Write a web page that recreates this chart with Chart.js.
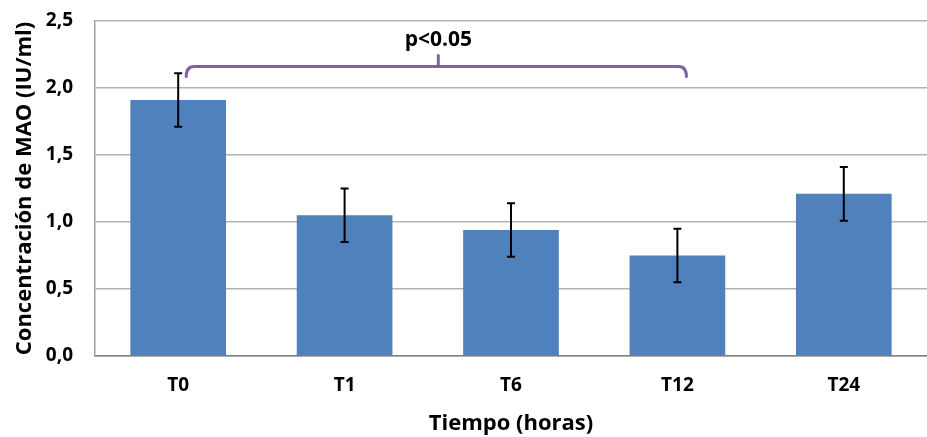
<!DOCTYPE html>
<html>
<head>
<meta charset="utf-8">
<script src="https://cdn.jsdelivr.net/npm/chart.js@4/dist/chart.umd.min.js"></script>
<style>
  html, body { margin: 0; padding: 0; background: #fff; }
  #wrap { width: 927px; height: 437px; }
</style>
</head>
<body>
<div id="wrap"><canvas id="chart"></canvas></div>
<script>
const categories = ["T0", "T1", "T6", "T12", "T24"];
const values = [1.91, 1.05, 0.94, 0.75, 1.21];
const errors = [0.2, 0.2, 0.2, 0.2, 0.2];
const yTicks = [0, 0.5, 1.0, 1.5, 2.0, 2.5];
// significance bracket between these two groups
const bracketFrom = "T0";
const bracketTo = "T12";
const bracketLabel = "p<0.05";
const bracketLevel = 2.16;

const FONT = "'Open Sans', Lato, sans-serif";

const errorBars = {
  id: "errorBars",
  afterDatasetsDraw(chart) {
    const { ctx, scales: { x, y } } = chart;
    ctx.save();
    ctx.strokeStyle = "#000";
    ctx.lineWidth = 2;
    values.forEach((v, i) => {
      const px = x.getPixelForValue(i);
      const top = y.getPixelForValue(v + errors[i]);
      const bot = y.getPixelForValue(v - errors[i]);
      ctx.beginPath();
      ctx.moveTo(px, top); ctx.lineTo(px, bot);
      ctx.moveTo(px - 4, top); ctx.lineTo(px + 4, top);
      ctx.moveTo(px - 4, bot); ctx.lineTo(px + 4, bot);
      ctx.stroke();
    });
    ctx.restore();
  }
};

const bracket = {
  id: "bracket",
  afterDatasetsDraw(chart) {
    const { ctx, scales: { x, y } } = chart;
    const x1 = x.getPixelForValue(categories.indexOf(bracketFrom)) + 8;
    const x2 = x.getPixelForValue(categories.indexOf(bracketTo)) + 9;
    const mid = (x1 + x2) / 2 + 2;
    const yl = y.getPixelForValue(bracketLevel);
    ctx.save();
    ctx.strokeStyle = "#7f62a2";
    ctx.lineWidth = 3;
    ctx.lineJoin = "round";
    ctx.lineCap = "round";
    ctx.beginPath();
    ctx.moveTo(x1, yl + 10);
    ctx.quadraticCurveTo(x1, yl, x1 + 8, yl);
    ctx.lineTo(x2 - 8, yl);
    ctx.quadraticCurveTo(x2, yl, x2, yl + 10);
    ctx.moveTo(mid, yl);
    ctx.lineTo(mid, yl - 11);
    ctx.stroke();
    ctx.fillStyle = "#000";
    ctx.font = "bold 21px " + FONT;
    ctx.textAlign = "center";
    ctx.textBaseline = "middle";
    ctx.fillText(bracketLabel, mid, yl - 27);
    ctx.restore();
  }
};

new Chart(document.getElementById("chart"), {
  type: "bar",
  data: {
    labels: categories,
    datasets: [
      {
        data: values,
        backgroundColor: "#4f81bd",
        borderWidth: 0,
        categoryPercentage: 1,
        barPercentage: 0.575
      }
    ]
  },
  options: {
    responsive: true,
    maintainAspectRatio: false,
    animation: false,
    layout: { padding: { top: 21, right: 0, left: 12, bottom: 0 } },
    plugins: {
      legend: { display: false },
      tooltip: { enabled: false }
    },
    scales: {
      x: {
        grid: { display: false },
        border: { color: "#808080", width: 1.5 },
        ticks: {
          color: "#000",
          font: { family: FONT, size: 19, weight: "bold" },
          padding: 10
        },
        title: {
          display: true,
          text: "Tiempo (horas)",
          color: "#000",
          font: { family: FONT, size: 22, weight: "bold" },
          padding: { top: 5, bottom: 0 }
        },
        afterFit: s => { s.height = 81; s.paddingLeft = 0; s.paddingRight = 0; }
      },
      y: {
        min: 0,
        max: 2.5,
        afterBuildTicks: s => { s.ticks = yTicks.map(v => ({ value: v })); },
        grid: { color: "#b3b3b3", lineWidth: 1.5, drawTicks: false },
        border: { color: "#a0a0a0", width: 1.5 },
        ticks: {
          color: "#000",
          padding: 22,
          font: { family: FONT, size: 19, weight: "bold" },
          callback: v => v.toFixed(1).replace(".", ",")
        },
        title: {
          display: true,
          text: "Concentración de MAO (IU/ml)",
          color: "#000",
          font: { family: FONT, size: 22, weight: "bold" },
          padding: { top: 0, bottom: 2 }
        },
        afterFit: s => { s.width = 83; s.paddingTop = 0; s.paddingBottom = 0; }
      }
    }
  },
  plugins: [errorBars, bracket]
});
</script>
</body>
</html>
